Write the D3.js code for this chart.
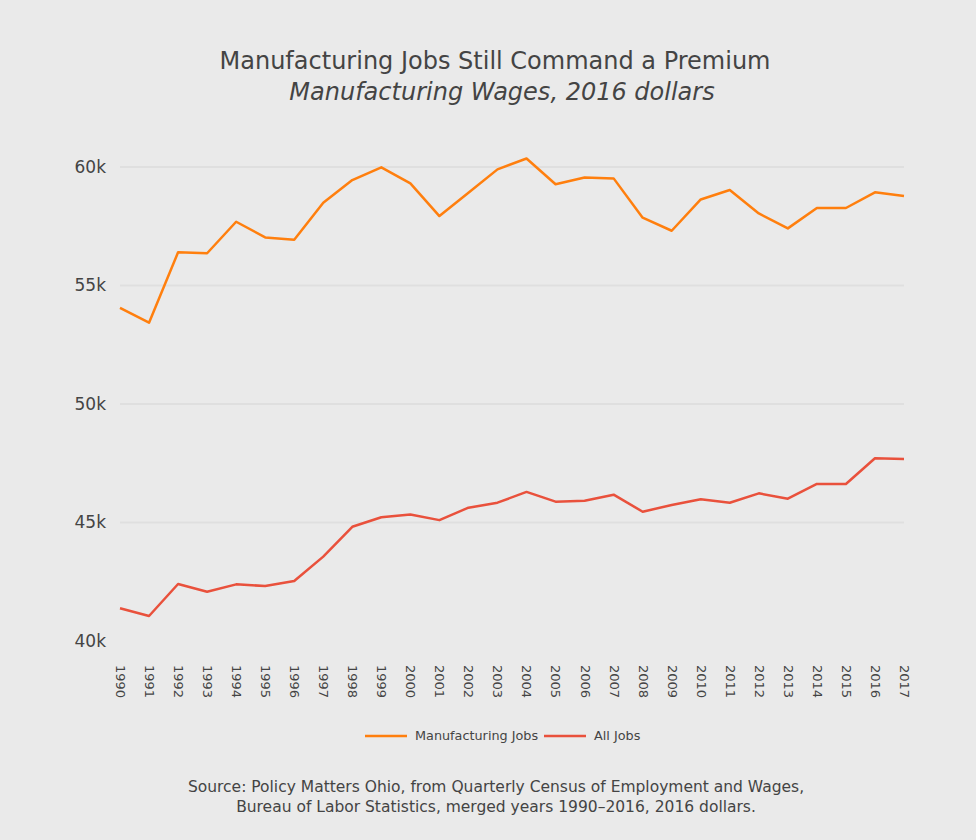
<!DOCTYPE html>
<html>
<head>
<meta charset="utf-8">
<script src="https://cdn.jsdelivr.net/npm/d3@7"></script>
<style>
  body { margin: 0; background: #fff; }
  svg text { font-family: "DejaVu Sans", Verdana, sans-serif; }
</style>
</head>
<body>
<div id="canvas"></div>
<script>
"use strict"

let svgWidth = 976;
let svgHeight = 840;

/* Data */
let years = [1990, 1991, 1992, 1993, 1994, 1995, 1996, 1997, 1998, 1999,
             2000, 2001, 2002, 2003, 2004, 2005, 2006, 2007, 2008, 2009,
             2010, 2011, 2012, 2013, 2014, 2015, 2016, 2017];

let manufacturingWages = [54060, 53430, 56400, 56360, 57690, 57030, 56930, 58490, 59450, 59985,
                          59310, 57930, 58915, 59900, 60360, 59270, 59560, 59520, 57860, 57310,
                          58630, 59030, 58040, 57410, 58270, 58270, 58930, 58775];

let allWages = [41380, 41055, 42405, 42080, 42390, 42320, 42530, 43560, 44820, 45220,
                45340, 45100, 45625, 45836, 46290, 45880, 45920, 46175, 45455, 45740,
                45980, 45835, 46230, 46005, 46625, 46625, 47710, 47680];

let yTicks = [40000, 45000, 50000, 55000, 60000];

let seriesNames = ["Manufacturing Jobs", "All Jobs"];
let seriesColors = ["#ff7f0e", "#e9513c"];

let titleText = "Manufacturing Jobs Still Command a Premium";
let subtitleText = "Manufacturing Wages, 2016 dollars";
let sourceLines = [
    "Source: Policy Matters Ohio, from Quarterly Census of Employment and Wages,",
    "Bureau of Labor Statistics, merged years 1990\u20132016, 2016 dollars."
];

let plotLeft = 120, plotRight = 904;
let plotTop = 167, plotBottom = 641;

let svg = d3.select("#canvas")
    .append("svg")
    .attr("width", svgWidth)
    .attr("height", svgHeight);

// background
svg.append("rect")
    .attr("width", svgWidth)
    .attr("height", svgHeight)
    .attr("fill", "#eaeaea");

/* Scales */
let xScale = d3.scaleLinear()
    .domain([d3.min(years), d3.max(years)])
    .range([plotLeft, plotRight]);

let yScale = d3.scaleLinear()
    .domain([40000, 60000])
    .range([plotBottom, plotTop]);

/* Gridlines (no line at the bottom value) */
svg.append("g")
    .selectAll("line")
    .data(yTicks.slice(1))
    .join("line")
    .attr("x1", plotLeft)
    .attr("x2", plotRight)
    .attr("y1", d => yScale(d))
    .attr("y2", d => yScale(d))
    .attr("stroke", "#dfdfdf")
    .attr("stroke-width", 2);

/* Y axis */
let yAxis = d3.axisLeft(yScale)
    .tickValues(yTicks)
    .tickFormat(d3.format("~s"))
    .tickSize(0)
    .tickPadding(14);

let yG = svg.append("g")
    .attr("transform", "translate(" + plotLeft + ",0)")
    .call(yAxis);
yG.select(".domain").remove();
yG.selectAll("text")
    .attr("fill", "#444")
    .style("font-size", "17px");

/* X axis, labels turned 90 degrees */
let xAxis = d3.axisBottom(xScale)
    .tickValues(years)
    .tickFormat(d3.format("d"))
    .tickSize(0);

let xG = svg.append("g")
    .attr("transform", "translate(0," + (plotBottom + 24) + ")")
    .call(xAxis);
xG.select(".domain").remove();
xG.selectAll("text")
    .attr("fill", "#444")
    .style("font-size", "13px")
    .attr("text-anchor", "start")
    .attr("transform", "rotate(90)")
    .attr("x", 0)
    .attr("y", 0)
    .attr("dy", "0.35em");

/* Lines */
let line = d3.line()
    .x((d, i) => xScale(years[i]))
    .y(d => yScale(d));

[manufacturingWages, allWages].forEach(function (series, k) {
    svg.append("path")
        .datum(series)
        .attr("fill", "none")
        .attr("stroke", seriesColors[k])
        .attr("stroke-width", 2.5)
        .attr("stroke-linejoin", "round")
        .attr("d", line);
});

/* Title */
svg.append("text")
    .attr("x", 495)
    .attr("y", 69)
    .attr("text-anchor", "middle")
    .attr("fill", "#444")
    .style("font-size", "24px")
    .text(titleText);

svg.append("text")
    .attr("x", 502)
    .attr("y", 100)
    .attr("text-anchor", "middle")
    .attr("fill", "#444")
    .style("font-size", "24px")
    .style("font-style", "italic")
    .text(subtitleText);

/* Legend */
let legendX = [365, 544];
let legend = svg.append("g");
seriesNames.forEach(function (name, k) {
    legend.append("line")
        .attr("x1", legendX[k])
        .attr("x2", legendX[k] + 42)
        .attr("y1", 736)
        .attr("y2", 736)
        .attr("stroke", seriesColors[k])
        .attr("stroke-width", 2.5);
    legend.append("text")
        .attr("x", legendX[k] + 50)
        .attr("y", 736)
        .attr("dy", "0.35em")
        .attr("fill", "#444")
        .style("font-size", "12.8px")
        .text(name);
});

/* Source note */
svg.append("g")
    .selectAll("text")
    .data(sourceLines)
    .join("text")
    .attr("x", 496)
    .attr("y", (d, i) => 792 + i * 20)
    .attr("text-anchor", "middle")
    .attr("fill", "#444")
    .style("font-size", "15.5px")
    .text(d => d);
</script>
</body>
</html>
